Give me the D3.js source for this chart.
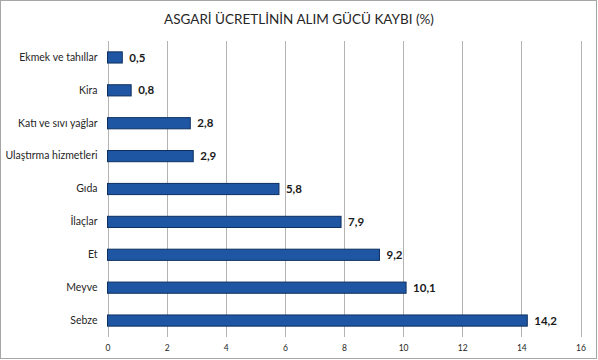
<!DOCTYPE html>
<html><head><meta charset="utf-8">
<script src="https://cdn.jsdelivr.net/npm/d3@7"></script>
<style>body{margin:0;background:#fff}svg{display:block}</style>
</head><body><svg id="c" width="598" height="360"></svg>
<script>
const title = "ASGARİ ÜCRETLİNİN ALIM GÜCÜ KAYBI (%)";
const categories = ["Ekmek ve tahıllar","Kira","Katı ve sıvı yağlar","Ulaştırma hizmetleri","Gıda","İlaçlar","Et","Meyve","Sebze"];
const values = [0.5,0.8,2.8,2.9,5.8,7.9,9.2,10.1,14.2];
const xTicks = [0,2,4,6,8,10,12,14,16];

const svg = d3.select("#c");
const font = "Lato, 'Open Sans', sans-serif";
svg.append("rect").attr("x",0.5).attr("y",0.5).attr("width",596).attr("height",358)
  .attr("fill","#fff").attr("stroke","#a6a6a6");

const x = d3.scaleLinear().domain([0,16]).range([107.5,580.5]);
const y = d3.scaleBand().domain(categories).range([41,337]).paddingInner(0.66).paddingOuter(0.33);

svg.append("text").attr("x",299).attr("y",24).attr("text-anchor","middle")
  .attr("font-family",font).attr("font-size",13.5).attr("fill","#262626").text(title);

// gridlines
svg.append("g").selectAll("line").data(xTicks).join("line")
  .attr("x1",d=>Math.round(x(d))+0.5).attr("x2",d=>Math.round(x(d))+0.5)
  .attr("y1",41).attr("y2",337).attr("stroke","#b3b3b3").attr("stroke-width",1);

// x axis labels
const xa = svg.append("g").attr("transform","translate(0,337)")
  .call(d3.axisBottom(x).tickValues(xTicks).tickSize(0).tickPadding(8).tickFormat(d3.format("d")));
xa.select(".domain").remove();
xa.selectAll("text").attr("font-family",font).attr("font-size",8.5).attr("fill","#262626");

// y axis labels
const ya = svg.append("g").attr("transform","translate(107.5,0)")
  .call(d3.axisLeft(y).tickSize(0).tickPadding(10));
ya.select(".domain").remove();
ya.selectAll("text").attr("font-family",font).attr("font-size",10.5).attr("fill","#262626");

// bars
svg.append("g").selectAll("rect").data(categories).join("rect")
  .attr("x",x(0)).attr("y",d=>y(d)).attr("height",y.bandwidth())
  .attr("width",(d,i)=>x(values[i])-x(0))
  .attr("fill","#1f56a3").attr("stroke","#0d2f5f").attr("stroke-width",1);

// value labels
const fmt = v => v.toFixed(1).replace(".",",");
svg.append("g").selectAll("text").data(categories).join("text")
  .attr("x",(d,i)=>x(values[i])+7).attr("y",d=>y(d)+y.bandwidth()/2)
  .attr("dy","0.36em").attr("font-family",font).attr("font-size",11.5).attr("font-weight","bold")
  .attr("fill","#1a1a1a").text((d,i)=>fmt(values[i]));
</script></body></html>
